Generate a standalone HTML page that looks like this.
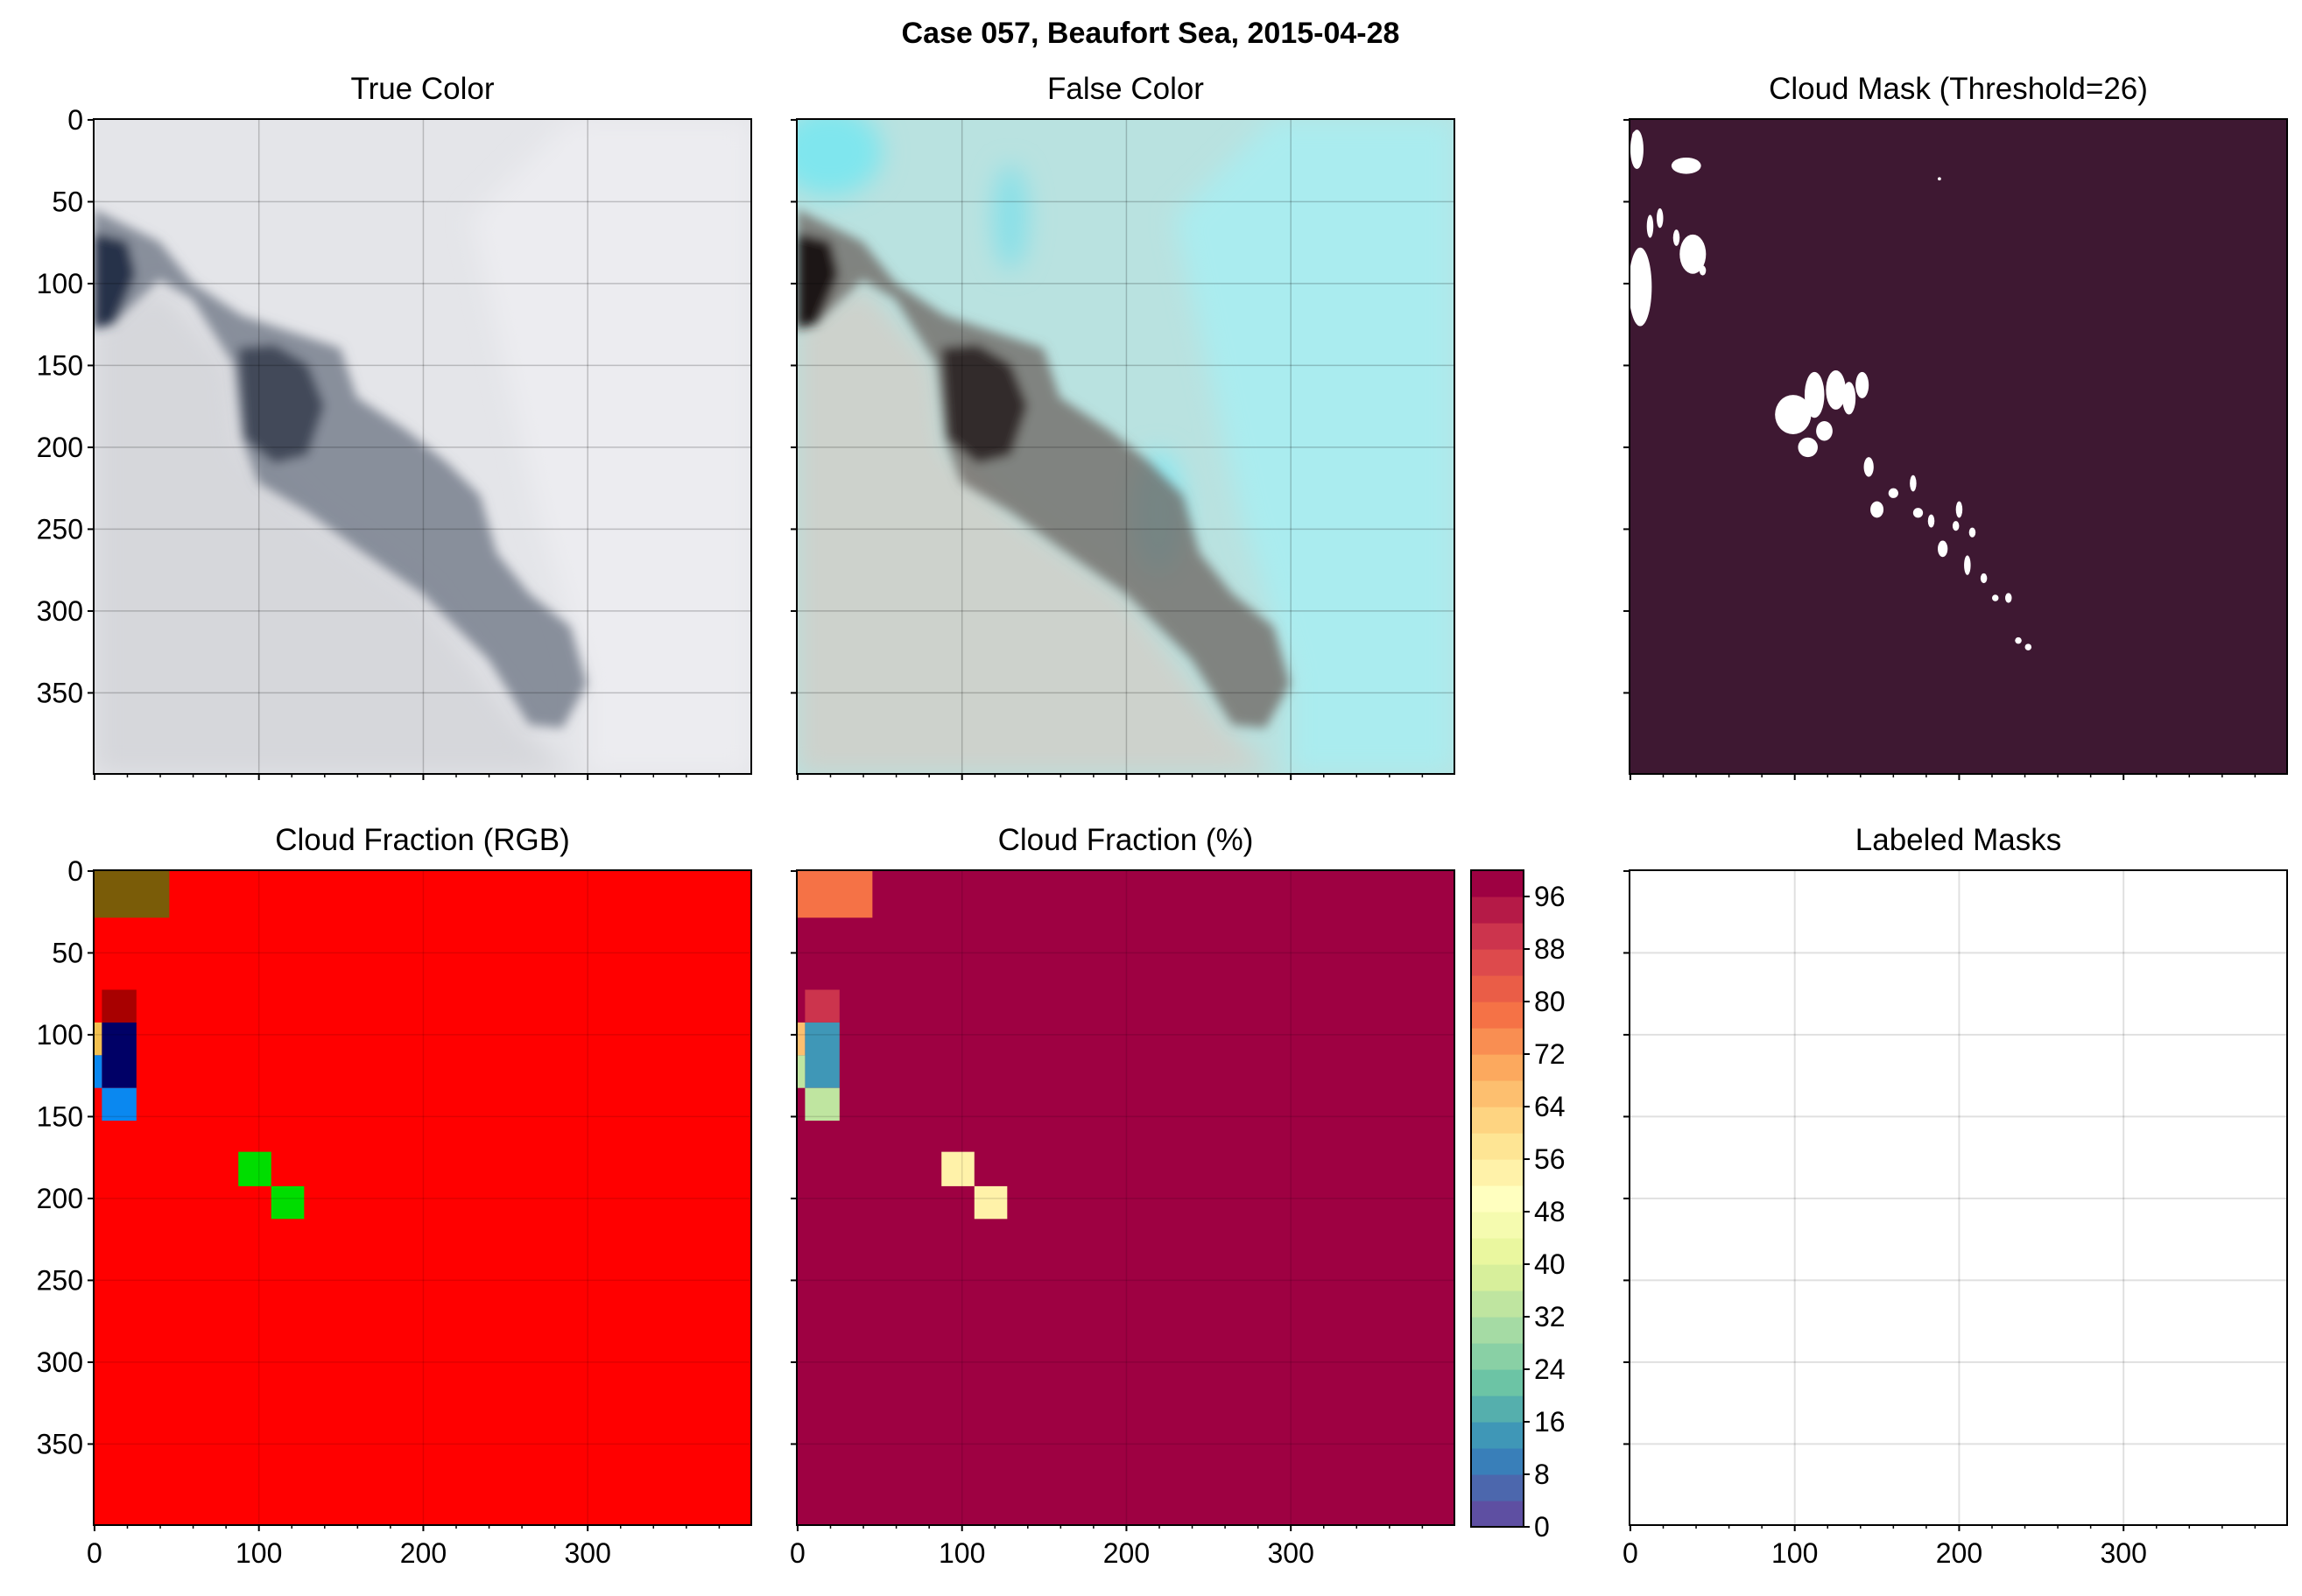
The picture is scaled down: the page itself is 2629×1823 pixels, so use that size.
<!DOCTYPE html>
<html><head><meta charset="utf-8">
<style>
html,body{margin:0;padding:0;background:#fff;}
svg{display:block;}
text{font-family:"Liberation Sans",sans-serif;fill:#000;}
</style></head>
<body>
<svg id="fig" width="2629" height="1823" viewBox="0 0 2629 1823" xmlns="http://www.w3.org/2000/svg">
<defs>
<filter id="blur6" x="-10%" y="-10%" width="120%" height="120%"><feGaussianBlur stdDeviation="6"/></filter>
<filter id="blur14" x="-20%" y="-20%" width="140%" height="140%"><feGaussianBlur stdDeviation="14"/></filter>
</defs>
<text x="1314" y="49" text-anchor="middle" font-size="34" font-weight="bold">Case 057, Beaufort Sea, 2015-04-28</text>
<g id="layer"></g>
</svg>
<script>
// ---- data ----
const yTicks = [0,50,100,150,200,250,300,350];
const xTicks = [0,100,200,300];
const xMinor = [20,40,60,80,120,140,160,180,220,240,260,280,320,340,360,380];
const cbTicks = [0,8,16,24,32,40,48,56,64,72,80,88,96];
const cbLevels = 25; // 0..100 step 4
// cloud-fraction grid cells (image coords) and their percentages
const cellX0 = [0, 5, 0, 5, 0, 5, 88, 108];
const cellX1 = [46, 26, 5, 26, 5, 26, 108, 128];
const cellY0 = [0, 73, 93, 93, 113, 133, 172, 193];
const cellY1 = [29, 93, 113, 133, 133, 153, 193, 213];
const cellPct = [78, 90, 66, 15, 35, 35, 54, 54];
const cellRGB = ['#7a5c08','#a80000','#f2c050','#000066','#0a88f0','#0a88f0','#00dd00','#00dd00'];
const bgPct = 99;
// cloud mask blobs (cx, cy, rx, ry in image coords)
const blobCx = [4, 34, 6, 38, 99, 112, 125, 133, 141, 108, 118, 145, 150, 160, 172, 175, 183, 190, 198, 205, 208, 215, 222, 230, 236, 242, 3, 12, 18, 28, 44, 188, 200];
const blobCy = [18, 28, 102, 82, 180, 168, 165, 170, 162, 200, 190, 212, 238, 228, 222, 240, 245, 262, 248, 272, 252, 280, 292, 292, 318, 322, 10, 65, 60, 72, 92, 36, 238];
const blobRx = [4, 9, 7, 8, 11, 6, 6, 4, 4, 6, 5, 3, 4, 3, 2, 3, 2, 3, 2, 2, 2, 2, 2, 2, 2, 2, 2, 2, 2, 2, 2, 1, 2];
const blobRy = [12, 5, 24, 12, 12, 14, 12, 10, 8, 6, 6, 6, 5, 3, 5, 3, 4, 5, 3, 6, 3, 3, 2, 3, 2, 2, 3, 7, 6, 5, 3, 1, 5];

const NS='http://www.w3.org/2000/svg';
const layer=document.getElementById('layer');
function mk(tag,attrs,parent){const e=document.createElementNS(NS,tag);for(const k in attrs)e.setAttribute(k,attrs[k]);(parent||layer).appendChild(e);return e;}

const W=751,H=748;
const panels=[
 {id:'true-color',x:107,y:136,title:'True Color',xl:false,yl:true},
 {id:'false-color',x:910,y:136,title:'False Color',xl:false,yl:false},
 {id:'cloud-mask',x:1861,y:136,title:'Cloud Mask (Threshold=26)',xl:false,yl:false},
 {id:'cloud-fraction-rgb',x:107,y:994,title:'Cloud Fraction (RGB)',xl:true,yl:true},
 {id:'cloud-fraction-pct',x:910,y:994,title:'Cloud Fraction (%)',xl:true,yl:false},
 {id:'labeled-masks',x:1861,y:994,title:'Labeled Masks',xl:true,yl:false}
];
function sx(p,v){return p.x+(v+0.5)/400*W;}
function sy(p,v){return p.y+(v+0.5)/400*H;}
function ix(p,v){return p.x+v/400*W;}
function iy(p,v){return p.y+v/400*H;}

const spec=['#9e0142','#d53e4f','#f46d43','#fdae61','#fee08b','#ffffbf','#e6f598','#abdda4','#66c2a5','#3288bd','#5e4fa2'];
function hex(c){return [parseInt(c.substr(1,2),16),parseInt(c.substr(3,2),16),parseInt(c.substr(5,2),16)];}
function cmap(t){
  const u=(1-t)*(spec.length-1);const i=Math.max(0,Math.min(Math.floor(u),spec.length-2));const f=u-i;
  const a=hex(spec[i]),b=hex(spec[i+1]);
  return 'rgb('+a.map((v,k)=>Math.round(v+(b[k]-v)*f)).join(',')+')';
}
function lvlColor(l){return cmap(l/(cbLevels-1));}
function pctColor(p){const lvl=Math.min(Math.floor(p/4),cbLevels-1);return lvlColor(lvl);}

function poly(p,pts){return pts.map(q=>ix(p,q[0]).toFixed(1)+','+iy(p,q[1]).toFixed(1)).join(' ');}
const bandPts=[[0,55],[40,75],[60,100],[90,120],[120,130],[150,140],[160,170],[190,190],[215,210],[235,230],[245,265],[265,290],[290,310],[300,345],[285,372],[265,370],[240,330],[200,290],[160,262],[130,240],[100,222],[90,195],[85,150],[60,110],[40,98],[12,125],[0,128]];
const corePts=[[88,140],[110,138],[130,150],[140,175],[130,205],[110,210],[92,195]];
const leftPts=[[0,70],[20,75],[25,95],[12,125],[0,128]];
const lowPts=[[0,125],[40,100],[85,150],[90,200],[130,240],[200,290],[260,370],[290,400],[0,400]];
const brightPts=[[290,0],[400,0],[400,400],[300,400],[300,340],[270,240],[250,150],[230,60]];

panels.forEach(p=>{
  const g=mk('g',{});
  
  
  const cid='clip-'+p.id;
  const cp=mk('clipPath',{id:cid},g);mk('rect',{x:p.x,y:p.y,width:W,height:H},cp);
  const img=mk('g',{'clip-path':'url(#'+cid+')'},g);
  
  
  if(p.id==='true-color'||p.id==='false-color'){
    const fc=p.id==='false-color';
    mk('rect',{x:p.x,y:p.y,width:W,height:H,fill:fc?'#b9e2e0':'#e4e5e9'},img);
    const soft=mk('g',{filter:'url(#blur14)'},img);
    mk('polygon',{points:poly(p,lowPts),fill:fc?'#cdd2cc':'#d6d7db'},soft);
    mk('polygon',{points:poly(p,brightPts),fill:fc?'#aaecef':'#ececf0'},soft);
    if(fc){mk('ellipse',{cx:ix(p,20),cy:iy(p,20),rx:60,ry:50,fill:'#7fe6ee'},soft);
      mk('ellipse',{cx:ix(p,130),cy:iy(p,60),rx:20,ry:60,fill:'#88e0e8'},soft);
      mk('ellipse',{cx:ix(p,220),cy:iy(p,240),rx:30,ry:70,fill:'#8fe8f0'},soft);}
    const dk=mk('g',{filter:'url(#blur6)'},img);
    mk('polygon',{points:poly(p,bandPts),fill:fc?'#6d6460':'#6a7282','fill-opacity':0.75},dk);
    mk('polygon',{points:poly(p,corePts),fill:fc?'#2a2222':'#3a4152','fill-opacity':0.9},dk);
    mk('polygon',{points:poly(p,leftPts),fill:fc?'#1c1616':'#28324a'},dk);
    [100,200,300].forEach(v=>mk('line',{x1:sx(p,v),x2:sx(p,v),y1:p.y,y2:p.y+H,stroke:'#000','stroke-opacity':0.2,'stroke-width':1.5},img));
    [50,100,150,200,250,300,350].forEach(v=>mk('line',{x1:p.x,x2:p.x+W,y1:sy(p,v),y2:sy(p,v),stroke:'#000','stroke-opacity':0.2,'stroke-width':1.5},img));
  } else if(p.id==='cloud-mask'){
    mk('rect',{x:p.x,y:p.y,width:W,height:H,fill:'#3e1832'},img);
    for(let i=0;i<blobCx.length;i++){
      const e=mk('ellipse',{cx:sx(p,blobCx[i]),cy:sy(p,blobCy[i]),rx:blobRx[i]/400*W,ry:blobRy[i]/400*H,fill:'#fff'},img);
      
      
    }
  } else if(p.id==='cloud-fraction-rgb'||p.id==='cloud-fraction-pct'){
    const pct=p.id==='cloud-fraction-pct';
    mk('rect',{x:p.x,y:p.y,width:W,height:H,fill:pct?pctColor(bgPct):'#ff0000'},img);
    for(let i=0;i<cellPct.length;i++){
      const r=mk('rect',{x:ix(p,cellX0[i]),y:iy(p,cellY0[i]),width:(cellX1[i]-cellX0[i])/400*W,height:(cellY1[i]-cellY0[i])/400*H,fill:pct?pctColor(cellPct[i]):cellRGB[i]},img);
      
      
    }
    [100,200,300].forEach(v=>mk('line',{x1:sx(p,v),x2:sx(p,v),y1:p.y,y2:p.y+H,stroke:'#000','stroke-opacity':0.12,'stroke-width':1.5},img));
    [50,100,150,200,250,300,350].forEach(v=>mk('line',{x1:p.x,x2:p.x+W,y1:sy(p,v),y2:sy(p,v),stroke:'#000','stroke-opacity':0.12,'stroke-width':1.5},img));
  } else {
    mk('rect',{x:p.x,y:p.y,width:W,height:H,fill:'#fff'},img);
    [100,200,300].forEach(v=>mk('line',{x1:sx(p,v),x2:sx(p,v),y1:p.y,y2:p.y+H,stroke:'#000','stroke-opacity':0.12,'stroke-width':2},img));
    [50,100,150,200,250,300,350].forEach(v=>mk('line',{x1:p.x,x2:p.x+W,y1:sy(p,v),y2:sy(p,v),stroke:'#000','stroke-opacity':0.12,'stroke-width':2},img));
  }
  const fr=mk('rect',{x:p.x,y:p.y,width:W,height:H,fill:'none',stroke:'#000','stroke-width':2},g);
  
  
  const t=mk('text',{x:p.x+W/2,y:p.y-23,'text-anchor':'middle','font-size':35},g);
  t.textContent=p.title;
  
  
  yTicks.forEach(v=>{
    const yy=sy(p,v);
    mk('line',{x1:p.x-7,x2:p.x,y1:yy,y2:yy,stroke:'#000','stroke-width':2},g);
    if(p.yl){const l=mk('text',{x:p.x-12,y:yy+11,'text-anchor':'end','font-size':32},g);l.textContent=v;
      
      }
  });
  xTicks.forEach(v=>{
    const xx=sx(p,v);
    mk('line',{x1:xx,x2:xx,y1:p.y+H,y2:p.y+H+7,stroke:'#000','stroke-width':2},g);
    if(p.xl){const l=mk('text',{x:xx,y:p.y+H+43,'text-anchor':'middle','font-size':32},g);l.textContent=v;
      
      }
  });
  xMinor.forEach(v=>{const xx=sx(p,v);mk('line',{x1:xx,x2:xx,y1:p.y+H,y2:p.y+H+4,stroke:'#000','stroke-width':1.5},g);});
});

const cb={x:1680,y:994,w:60,h:750};
const cbg=mk('g',{});


for(let i=0;i<cbLevels;i++){
  const h=cb.h/cbLevels;
  const r=mk('rect',{x:cb.x,y:cb.y+cb.h-(i+1)*h,width:cb.w,height:h+0.6,fill:lvlColor(i)},cbg);
  
  
}
mk('rect',{x:cb.x,y:cb.y,width:cb.w,height:cb.h,fill:'none',stroke:'#000','stroke-width':2},cbg);
cbTicks.forEach(v=>{
  const yy=cb.y+cb.h-v/100*cb.h;
  mk('line',{x1:cb.x+cb.w,x2:cb.x+cb.w+7,y1:yy,y2:yy,stroke:'#000','stroke-width':2},cbg);
  const l=mk('text',{x:cb.x+cb.w+12,y:yy+11,'font-size':32},cbg);l.textContent=v;
  
  
});
</script>
</body></html>
